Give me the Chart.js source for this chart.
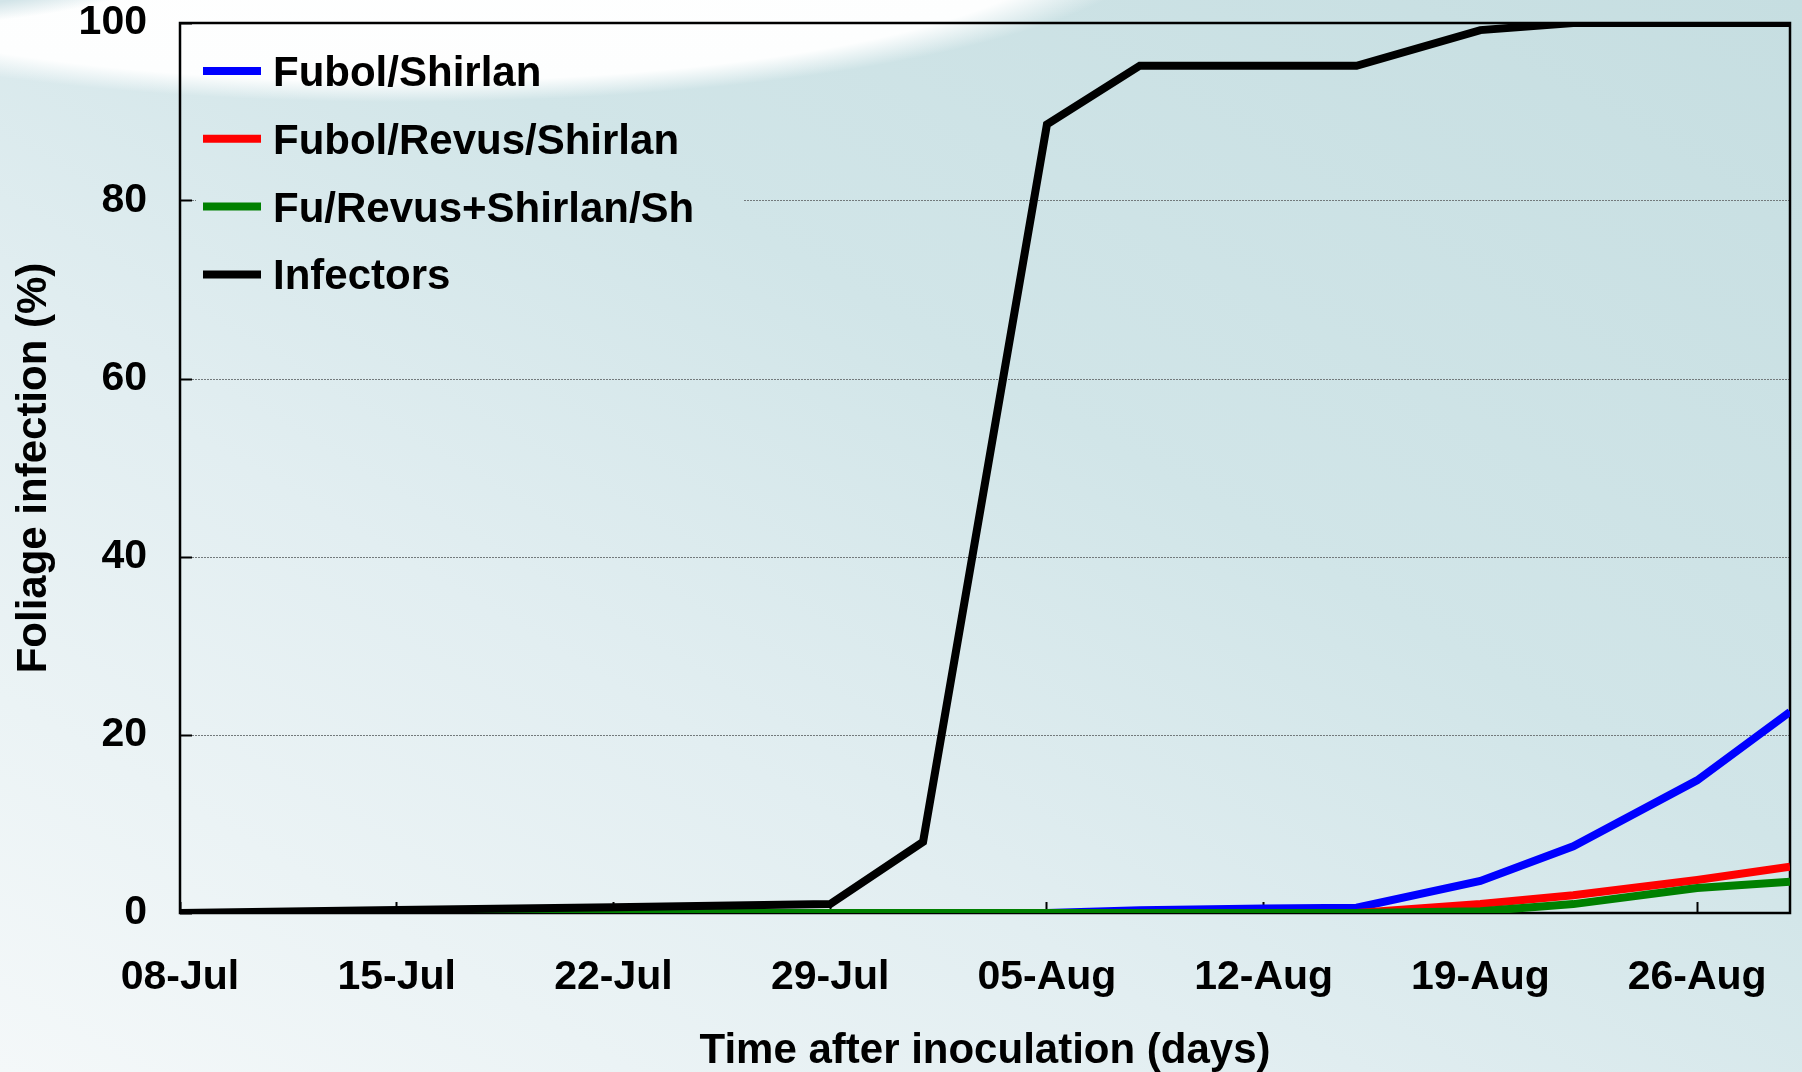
<!DOCTYPE html>
<html>
<head>
<meta charset="utf-8">
<title>Foliage infection</title>
<script src="https://cdn.jsdelivr.net/npm/chart.js@4.4.1/dist/chart.umd.min.js"></script>
<style>
    html, body {
        margin: 0;
        padding: 0;
        overflow: hidden;
    }
    #wrap {
        position: relative;
        width: 1802px;
        height: 1072px;
        background:
            radial-gradient(ellipse 300px 85px at -100px -60px, #d2e4e8 0%, #d2e4e8 80%, rgba(210,228,232,0) 100%),
            radial-gradient(ellipse 770px 170px at 400px -68px, #ffffff 0%, #fdfefe 88%, rgba(255,255,255,0) 100%),
            linear-gradient(to top right, #f4f8f9 0%, #e2eef1 35%, #d1e5e8 60%, #c6dee1 100%);
    }
    canvas {
        display: block;
    }
</style>
</head>
<body>
<div id="wrap">
    <canvas id="infectionChart" width="1802" height="1072"></canvas>
</div>
<script>
// Sampling days, counted from 08-Jul
const days = [0, 7, 14, 21, 24, 28, 31, 35, 38, 42, 45, 49, 52];

// Foliage infection (%) per treatment
const fubolShirlan = [0, 0, 0, 0, 0, 0, 0.3, 0.5, 0.6, 3.6, 7.5, 14.9, 22.6];
const fubolRevusShirlan = [0, 0, 0, 0, 0, 0, 0, 0, 0, 1.0, 2.0, 3.7, 5.2];
const fuRevusShirlanSh = [0, 0, 0, 0, 0, 0, 0, 0, 0, 0.2, 1.0, 2.8, 3.5];
const infectors = [0, 0.35, 0.65, 1.0, 8.0, 88.6, 95.2, 95.2, 95.2, 99.2, 100, 100, 100];

// Axis ticks
const tickDays = [0, 7, 14, 21, 28, 35, 42, 49];
const tickLabels = ['08-Jul', '15-Jul', '22-Jul', '29-Jul', '05-Aug', '12-Aug', '19-Aug', '26-Aug'];
const yTicks = [0, 20, 40, 60, 80, 100];

const FONT = "'Liberation Sans', Arial, sans-serif";

function toPoints(values) {
    return values.map((v, i) => ({ x: days[i], y: v }));
}

// Legend drawn inside the plot, top-left, the way the original has it
const insideLegend = {
    id: 'insideLegend',
    beforeDatasetsDraw(chart) {
        const { ctx, chartArea } = chart;
        // legend box hides the grid line behind it
        ctx.clearRect(chartArea.left + 16, chartArea.top + 3, 548, 285);

        // plot frame
        ctx.save();
        ctx.strokeStyle = '#000';
        ctx.lineWidth = 2.5;
        ctx.strokeRect(chartArea.left, chartArea.top, chartArea.right - chartArea.left, chartArea.bottom - chartArea.top);
        ctx.restore();
    },
    afterDatasetsDraw(chart) {
        const { ctx, chartArea } = chart;
        ctx.save();
        ctx.font = 'bold 42px ' + FONT;
        ctx.textAlign = 'left';
        ctx.textBaseline = 'alphabetic';
        chart.data.datasets.forEach((ds, i) => {
            const y = chartArea.top + 48 + i * 67.8;
            ctx.strokeStyle = ds.borderColor;
            ctx.lineWidth = 8;
            ctx.beginPath();
            ctx.moveTo(chartArea.left + 23, y);
            ctx.lineTo(chartArea.left + 81, y);
            ctx.stroke();
            ctx.fillStyle = '#000';
            ctx.fillText(ds.label, chartArea.left + 93, y + 15);
        });
        ctx.restore();
    }
};

const ctx = document.getElementById('infectionChart').getContext('2d');
const infectionChart = new Chart(ctx, {
    type: 'line',
    data: {
        datasets: [
            { label: 'Fubol/Shirlan', data: toPoints(fubolShirlan), borderColor: '#0000ff', order: 4 },
            { label: 'Fubol/Revus/Shirlan', data: toPoints(fubolRevusShirlan), borderColor: '#ff0000', order: 3 },
            { label: 'Fu/Revus+Shirlan/Sh', data: toPoints(fuRevusShirlanSh), borderColor: '#008000', order: 2 },
            { label: 'Infectors', data: toPoints(infectors), borderColor: '#000000', order: 1 }
        ]
    },
    options: {
        responsive: false,
        animation: false,
        layout: { padding: { left: 0, right: 12, top: 23, bottom: 0 } },
        elements: {
            line: { borderWidth: 8, tension: 0, fill: false, borderJoinStyle: 'miter' },
            point: { radius: 0, hoverRadius: 0 }
        },
        plugins: {
            legend: { display: false },
            tooltip: { enabled: false }
        },
        scales: {
            x: {
                type: 'linear',
                min: 0,
                max: 52,
                afterBuildTicks: function(scale) {
                    scale.ticks = tickDays.map(v => ({ value: v }));
                },
                afterFit: function(scale) {
                    scale.height = 159;
                    scale.paddingLeft = 0;
                    scale.paddingRight = 0;
                },
                grid: {
                    drawOnChartArea: false,
                    drawTicks: true,
                    tickLength: -11,
                    tickColor: '#000',
                    tickWidth: 2
                },
                border: { display: false },
                ticks: {
                    autoSkip: false,
                    maxRotation: 0,
                    padding: 51,
                    color: '#000',
                    font: { family: FONT, size: 41, weight: 'bold' },
                    callback: function(value) {
                        const i = tickDays.indexOf(value);
                        return i >= 0 ? tickLabels[i] : '';
                    }
                },
                title: {
                    display: true,
                    text: 'Time after inoculation (days)',
                    color: '#000',
                    font: { family: FONT, size: 42, weight: 'bold' },
                    padding: { top: 0, bottom: -5 }
                }
            },
            y: {
                min: 0,
                max: 100,
                afterBuildTicks: function(scale) {
                    scale.ticks = yTicks.map(v => ({ value: v }));
                },
                afterFit: function(scale) {
                    scale.width = 180;
                    scale.paddingTop = 0;
                    scale.paddingBottom = 0;
                },
                grid: {
                    color: function(c) {
                        const v = c.tick ? c.tick.value : null;
                        return (v === 0 || v === 100) ? 'rgba(0,0,0,0)' : '#737a7c';
                    },
                    lineWidth: 1,
                    drawTicks: true,
                    tickLength: -12,
                    tickColor: '#000',
                    tickWidth: 2,
                    tickBorderDash: []
                },
                border: { display: false, dash: [2, 1] },
                ticks: {
                    padding: 45,
                    color: '#000',
                    font: { family: FONT, size: 41, weight: 'bold' }
                },
                title: {
                    display: true,
                    text: 'Foliage infection (%)',
                    color: '#000',
                    font: { family: FONT, size: 42, weight: 'bold' },
                    padding: { top: 9, bottom: 0 }
                }
            }
        }
    },
    plugins: [insideLegend]
});
</script>
</body>
</html>
